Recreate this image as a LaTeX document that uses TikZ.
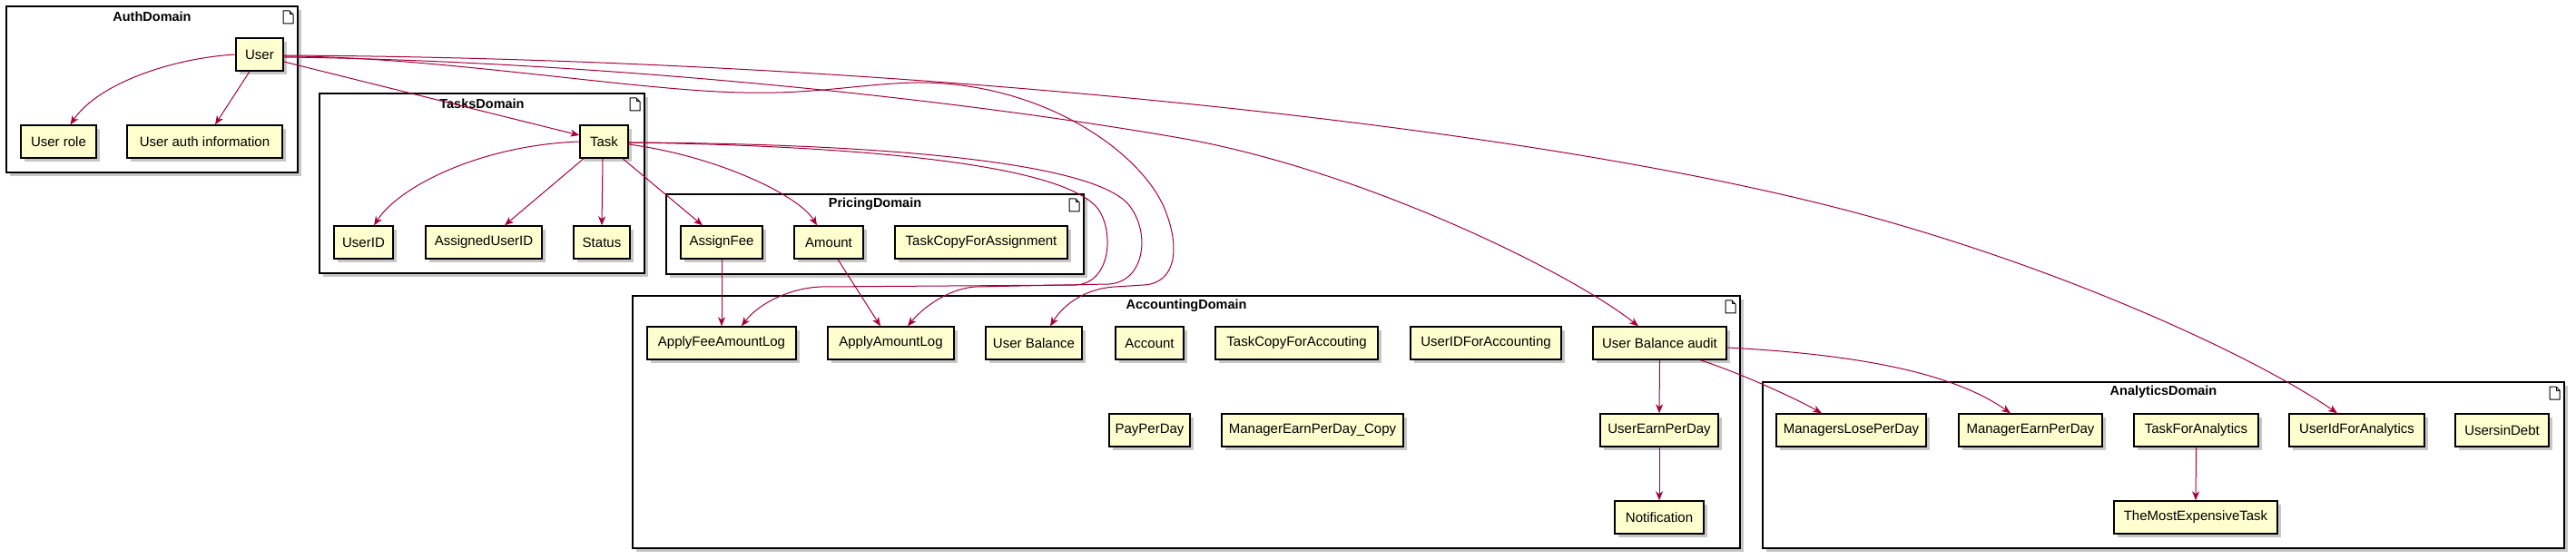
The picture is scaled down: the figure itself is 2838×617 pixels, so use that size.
\documentclass[tikz,border=0pt]{standalone}
\usepackage{fontspec}
\setmainfont{Liberation Sans}
\usetikzlibrary{arrows.meta,shadows,calc}
\definecolor{nodefill}{HTML}{FEFECE}
\definecolor{arrowcol}{HTML}{A80036}
\begin{document}
\begin{tikzpicture}[x=1pt,y=-1pt,
  shad/.style={drop shadow={shadow xshift=4pt,shadow yshift=-4pt,fill=black,opacity=0.22}},
  box/.style={draw=black,line width=1.4pt,fill=nodefill,minimum height=36pt,inner sep=0pt,
    font=\fontsize{15}{17}\selectfont,shad},
  pkg/.style={draw=black,line width=1.5pt,fill=white,shad},
  ttl/.style={font=\bfseries\fontsize{14.5}{16}\selectfont,inner sep=0pt},
  arr/.style={draw=arrowcol,line width=1pt,-{Stealth[length=10pt,width=8pt,inset=3pt]}},
  docicon/.pic={\draw[line width=1pt,fill=white,line join=round] (0,0) -- (0,14) -- (11,14) -- (11,4) -- (7,0) -- cycle;
                \draw[line width=1pt,line join=round] (7,0) -- (7,4) -- (11,4);}
]
\useasboundingbox (0,0) rectangle (2838,617);

% ---------- packages ----------
\path[pkg] (7,7) rectangle (328,190);
\node[ttl] (tauth) at (167.5,18) {AuthDomain};
\pic at (312,12) {docicon};

\path[pkg] (352,103) rectangle (710,301);
\node[ttl] (ttasks) at (531,114) {TasksDomain};
\pic at (694,108) {docicon};

\path[pkg] (734,214) rectangle (1194,302);
\node[ttl] (tpricing) at (964,225) {PricingDomain};
\pic at (1178,219) {docicon};

\path[pkg] (697,326) rectangle (1917,604);
\node[ttl] (taccount) at (1307,337) {AccountingDomain};
\pic at (1901,331) {docicon};

\path[pkg] (1942,421) rectangle (2825,604);
\node[ttl] (tanalytics) at (2383.5,432) {AnalyticsDomain};
\pic at (2809,426) {docicon};

% ---------- nodes ----------
\node[box,minimum width=52pt]  (user)   at (286,60)    {User};
\node[box,minimum width=83pt]  (urole)  at (64.5,156)  {User role};
\node[box,minimum width=171pt] (uauth)  at (225.5,156) {User auth information};

\node[box,minimum width=53pt]  (task)   at (665.5,156) {Task};
\node[box,minimum width=65pt]  (userid) at (400.5,267) {UserID};
\node[box,minimum width=128pt] (auid)   at (533,267)   {AssignedUserID};
\node[box,minimum width=62pt]  (status) at (663,267)   {Status};

\node[box,minimum width=90pt]  (assignfee) at (795,267)  {AssignFee};
\node[box,minimum width=76pt]  (amount)    at (913,267)  {Amount};
\node[box,minimum width=190pt] (tcfa)      at (1081,267) {TaskCopyForAssignment};

\node[box,minimum width=164pt] (afal)    at (795,378)    {ApplyFeeAmountLog};
\node[box,minimum width=139pt] (aal)     at (981.5,378)  {ApplyAmountLog};
\node[box,minimum width=106pt] (ubal)    at (1139,378)   {User Balance};
\node[box,minimum width=75pt]  (account) at (1266.5,378) {Account};
\node[box,minimum width=179pt] (tcfacc)  at (1428.5,378) {TaskCopyForAccouting};
\node[box,minimum width=166pt] (uidacc)  at (1637,378)   {UserIDForAccounting};
\node[box,minimum width=147pt] (uba)     at (1828.5,378) {User Balance audit};
\node[box,minimum width=89pt]  (ppd)     at (1266.5,474) {PayPerDay};
\node[box,minimum width=200pt] (mepdc)   at (1446,474)   {ManagerEarnPerDay\_Copy};
\node[box,minimum width=130pt] (uepd)    at (1828,474)   {UserEarnPerDay};
\node[box,minimum width=98pt]  (notif)   at (1828,570)   {Notification};

\node[box,minimum width=165pt] (mlpd)  at (2039.5,474) {ManagersLosePerDay};
\node[box,minimum width=158pt] (mepd)  at (2237,474)   {ManagerEarnPerDay};
\node[box,minimum width=137pt] (tfa)   at (2419.5,474) {TaskForAnalytics};
\node[box,minimum width=149pt] (uidfa) at (2596.5,474) {UserIdForAnalytics};
\node[box,minimum width=103pt] (uid)   at (2756.5,474) {UsersinDebt};
\node[box,minimum width=180pt] (tmet)  at (2419,570)   {TheMostExpensiveTask};

% ---------- connectors ----------
\draw[arr] (user.west) .. controls (190,64) and (108,92) .. ([xshift=13pt]urole.north);
\draw[arr] ([xshift=-11pt]user.south) -- ([xshift=11.5pt]uauth.north);
\draw[arr] ([yshift=-8pt]user.east) -- ([yshift=7pt]task.west);

% User -> User Balance (outer loop)
\draw[arr] ([yshift=-2pt]user.east) .. controls (480,62) and (700,100) .. (819,102)
   .. controls (900,104) and (950,92) .. (1010,91)
   .. controls (1150,90) and (1262,170) .. (1285,235)
   .. controls (1300,275) and (1295,312) .. (1260,314)
   -- (1228,316) .. controls (1196,318) and (1172,335) .. ([xshift=18pt]ubal.north);

% User -> User Balance audit
\draw[arr] ([yshift=-3pt]user.east) .. controls (600,66) and (1000,100) .. (1300,152)
   .. controls (1500,187) and (1730,300) .. ([xshift=-23.5pt]uba.north);

% User -> UserIdForAnalytics
\draw[arr] ([yshift=-1pt]user.east) .. controls (900,64) and (1600,125) .. (2000,223)
   .. controls (2250,284) and (2480,390) .. ([xshift=-21.5pt]uidfa.north);

% Task children
\draw[arr] (task.west) .. controls (530,160) and (440,205) .. ([xshift=11.5pt]userid.north);
\draw[arr] ([xshift=-22.5pt]task.south) -- ([xshift=23pt]auid.north);
\draw[arr] ([xshift=-1.5pt]task.south) -- (status.north);
\draw[arr] ([xshift=20.5pt]task.south) -- ([xshift=-21pt]assignfee.north);
\draw[arr] ([yshift=-3pt]task.east) .. controls (790,172) and (880,215) .. ([xshift=-13pt]amount.north);

% Task -> ApplyFeeAmountLog (inner loop)
\draw[arr] ([yshift=-1pt]task.east) .. controls (900,160) and (1160,175) .. (1208,228)
   .. controls (1228,252) and (1225,312) .. (1185,314)
   -- (905,316) .. controls (870,317) and (835,335) .. ([xshift=22pt]afal.north);

% Task -> ApplyAmountLog (middle loop)
\draw[arr] ([yshift=-1pt]task.east) .. controls (950,158) and (1200,176) .. (1243,225)
   .. controls (1268,255) and (1262,310) .. (1222,313)
   -- (1075,316) .. controls (1050,317) and (1020,335) .. ([xshift=18.5pt]aal.north);

\draw[arr] (assignfee.south) -- (afal.north);
\draw[arr] ([xshift=10pt]amount.south) -- ([xshift=-11.5pt]aal.north);

% Accounting
\draw[arr] (uba.south) -- (uepd.north);
\draw[arr] (uepd.south) -- (notif.north);
\draw[arr] ([xshift=44.5pt]uba.south) .. controls (1920,412) and (1980,440) .. ([xshift=-32.5pt]mlpd.north);
\draw[arr] ([yshift=-5pt]uba.east) .. controls (2080,392) and (2165,420) .. ([xshift=-22pt]mepd.north);

% Analytics
\draw[arr] (tfa.south) -- (tmet.north);
\end{tikzpicture}
\end{document}
